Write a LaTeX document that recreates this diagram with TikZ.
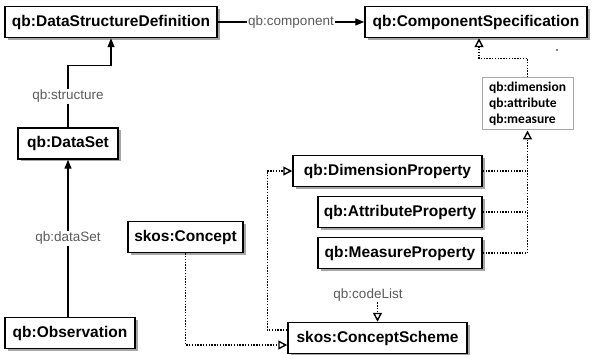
\documentclass[tikz,border=0pt]{standalone}
\usepackage{fontspec}
\setmainfont{Liberation Sans}
\newfontfamily\notefont{Carlito}
\usetikzlibrary{arrows.meta,shadows}
\definecolor{labelgray}{HTML}{5A5A5A}
\definecolor{boxgray}{HTML}{A8A8A8}
\tikzset{
	cls/.style={draw, line width=1.5pt, fill=white, inner sep=0pt, minimum height=31pt, font=\bfseries\fontsize{15.5}{18}\selectfont, drop shadow={shadow xshift=2.5pt, shadow yshift=-2.5pt, fill=black, opacity=0.35}},
	lbl/.style={fill=white, inner sep=1pt, text=labelgray, font=\fontsize{13.5}{16}\selectfont},
	assoc/.style={line width=1.4pt, -{Triangle[length=9pt,width=7pt]}},
	dotline/.style={line width=1.4pt, dash pattern=on 1.4pt off 1.4pt},
	dep/.style={dotline, -{Triangle[open,length=9pt,width=9pt,line width=1.4pt,fill=white]}}
}
\newcommand {\umlclass}[4] {\node[cls, minimum width=#3pt] (#1) at (#2) {#4};}

\begin{document}
\begin{tikzpicture}[x=1pt, y=-1pt]
	\useasboundingbox (0,0) rectangle (593,355);
	\umlclass{dsd}{111,22}{212}{qb:DataStructureDefinition}
	\umlclass{cspec}{476,22}{222}{qb:ComponentSpecification}
	\umlclass{dataset}{68,143.5}{100}{qb:DataSet}
	\umlclass{obs}{70,333}{130}{qb:Observation}
	\umlclass{concept}{185.5,237}{115}{skos:Concept}
	\umlclass{dimprop}{387.5,171}{189}{qb:DimensionProperty}
	\umlclass{attrprop}{400,212}{164}{qb:AttributeProperty}
	\umlclass{measprop}{400,253}{164}{qb:MeasureProperty}
	\umlclass{cscheme}{377.5,338}{179}{skos:ConceptScheme}
	\node[draw=boxgray, line width=1pt, fill=white, align=left, inner sep=3pt, minimum width=91pt, minimum height=52pt, font=\notefont\bfseries\fontsize{13.5}{16}\selectfont] (comp) at (527.5,104) {qb:dimension\\qb:attribute\\qb:measure};
	\draw[assoc] (dsd) -- node[lbl]{qb:component} (cspec);
	\draw[assoc] (dataset.north) -- node[lbl]{qb:structure} ++(0,-62) -| (dsd.south);
	\draw[assoc] (obs.north -| dataset.south) -- node[lbl]{qb:dataSet} (dataset.south);
	\draw[dep] (concept.south) |- ([yshift=-7pt]cscheme.west);
	\draw[dep] ([yshift=8pt]cscheme.west) -- ++(-20,0) |- (dimprop.west);
	\node[lbl] (codelist) at (368,295) {qb:codeList};
	\draw[dep] (codelist.south -| cscheme.north) -- (cscheme.north);
	\draw[dotline] (dimprop.east) -- (dimprop.east -| comp.south);
	\draw[dotline] (attrprop.east) -- (attrprop.east -| comp.south);
	\draw[dep] (measprop.east) -| (comp.south);
	\draw[dep] (comp.north) -- ++(0,-19) -| ([xshift=3pt]cspec.south);
	\fill (557,50) circle (0.8pt);
\end{tikzpicture}
\end{document}
